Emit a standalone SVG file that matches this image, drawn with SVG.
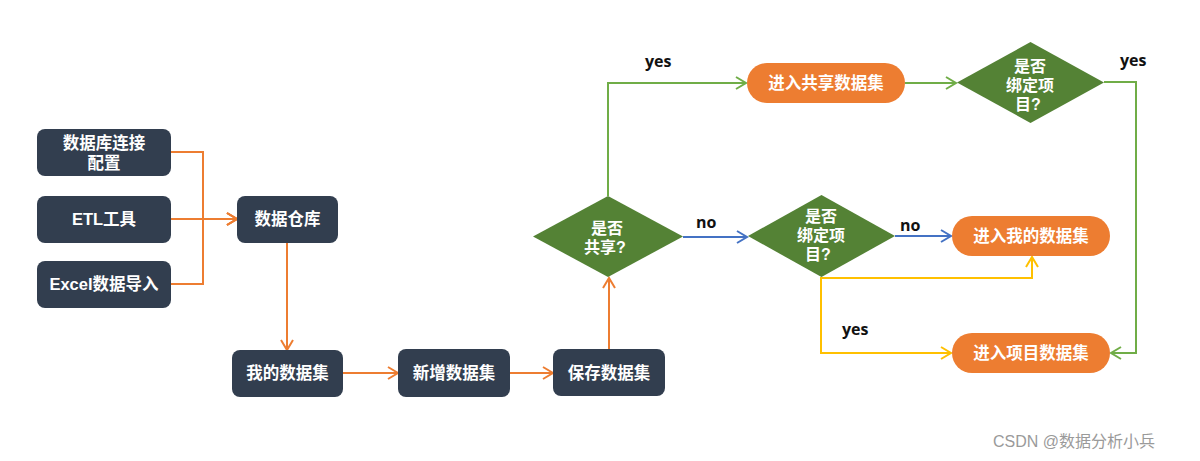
<svg xmlns="http://www.w3.org/2000/svg" width="1200" height="461" viewBox="0 0 1200 461">
<style>
.box{fill:#323e4f}
.pill{fill:#ed7d31}
.dia{fill:#548235}
.t{font-family:"Liberation Sans","Noto Sans CJK SC",sans-serif;font-weight:700;font-size:16.5px;fill:#ffffff;text-anchor:middle}
.dt{font-family:"Liberation Sans","Noto Sans CJK SC",sans-serif;font-weight:700;font-size:16px;fill:#ffffff;text-anchor:middle}
.lbl{font-family:"Open Sans","Liberation Sans",sans-serif;font-weight:700;font-size:16px;fill:#111111}
.c{fill:none;stroke-width:2}
.o{stroke:#ed7d31}
.g{stroke:#70ad47}
.b{stroke:#4472c4}
.y{stroke:#ffc000}
.wm{font-family:"Liberation Sans","Noto Sans CJK SC",sans-serif;font-size:16px;fill:#9a9a9a}
</style>
<defs>
<marker id="ao" markerUnits="userSpaceOnUse" markerWidth="12" markerHeight="14" refX="10" refY="6" orient="auto" overflow="visible"><path d="M0,0 L10,6 L0,12" fill="none" stroke="#ed7d31" stroke-width="2"/></marker>
<marker id="ag" markerUnits="userSpaceOnUse" markerWidth="12" markerHeight="14" refX="10" refY="6" orient="auto" overflow="visible"><path d="M0,0 L10,6 L0,12" fill="none" stroke="#70ad47" stroke-width="2"/></marker>
<marker id="ab" markerUnits="userSpaceOnUse" markerWidth="12" markerHeight="14" refX="10" refY="6" orient="auto" overflow="visible"><path d="M0,0 L10,6 L0,12" fill="none" stroke="#4472c4" stroke-width="2"/></marker>
<marker id="ay" markerUnits="userSpaceOnUse" markerWidth="12" markerHeight="14" refX="10" refY="6" orient="auto" overflow="visible"><path d="M0,0 L10,6 L0,12" fill="none" stroke="#ffc000" stroke-width="2"/></marker>
</defs>
<rect width="1200" height="461" fill="#ffffff"/>
<g id="connectors">
<path class="c o" d="M171,152 H203 V219 H237" marker-end="url(#ao)"/>
<path class="c o" d="M171,219 H237" marker-end="url(#ao)"/>
<path class="c o" d="M171,284 H203 V219 H237" marker-end="url(#ao)"/>
<path class="c o" d="M287,243 V350" marker-end="url(#ao)"/>
<path class="c o" d="M343,373 H398" marker-end="url(#ao)"/>
<path class="c o" d="M510,373 H553" marker-end="url(#ao)"/>
<path class="c o" d="M609,349 V278" marker-end="url(#ao)"/>
<path class="c g" d="M608,196 V83 H746" marker-end="url(#ag)"/>
<path class="c g" d="M905,83 H956" marker-end="url(#ag)"/>
<path class="c g" d="M1104,82 H1136 V353 H1111" marker-end="url(#ag)"/>
<path class="c b" d="M683,237 H747" marker-end="url(#ab)"/>
<path class="c b" d="M895,236 H951" marker-end="url(#ab)"/>
<path class="c y" d="M821,278 H1032 V257" marker-end="url(#ay)"/>
<path class="c y" d="M821,277 V353 H951" marker-end="url(#ay)"/>
<text class="lbl" x="645" y="67">yes</text>
<text class="lbl" x="696" y="228">no</text>
<text class="lbl" x="1120" y="66">yes</text>
<text class="lbl" x="900" y="231">no</text>
<text class="lbl" x="842" y="335">yes</text>
</g>
<g id="n-dbconn"><rect class="box" x="37" y="129" width="134" height="47" rx="8"/><text class="t" x="104" y="149">数据库连接</text><text class="t" x="104" y="169">配置</text></g>
<g id="n-etl"><rect class="box" x="37" y="196" width="134" height="47" rx="8"/><text class="t" x="104" y="225">ETL工具</text></g>
<g id="n-excel"><rect class="box" x="37" y="261" width="134" height="47" rx="8"/><text class="t" x="104" y="290">Excel数据导入</text></g>
<g id="n-dw"><rect class="box" x="237" y="196" width="101" height="47" rx="8"/><text class="t" x="287.5" y="225">数据仓库</text></g>
<g id="n-my"><rect class="box" x="232" y="350" width="111" height="47" rx="8"/><text class="t" x="287.5" y="379">我的数据集</text></g>
<g id="n-new"><rect class="box" x="398" y="349" width="112" height="48" rx="8"/><text class="t" x="454" y="379">新增数据集</text></g>
<g id="n-save"><rect class="box" x="553" y="349" width="112" height="47" rx="8"/><text class="t" x="609" y="379">保存数据集</text></g>
<g id="d-share"><polygon class="dia" points="608,196 683,236.5 608,277 533,236.5"/><text class="dt" x="607" y="234">是否</text><text class="dt" x="605" y="253">共享?</text></g>
<g id="d-bind1"><polygon class="dia" points="821.5,195 895,236 821.5,277 748,236"/><text class="dt" x="821" y="222">是否</text><text class="dt" x="821" y="241">绑定项</text><text class="dt" x="818" y="260">目?</text></g>
<g id="d-bind2"><polygon class="dia" points="1030.5,42 1104,82.5 1030.5,123 957,82.5"/><text class="dt" x="1030" y="72">是否</text><text class="dt" x="1030" y="91">绑定项</text><text class="dt" x="1028" y="110">目?</text></g>
<g id="p-shared"><rect class="pill" x="747" y="63" width="158" height="40" rx="20"/><text class="t" x="826" y="89">进入共享数据集</text></g>
<g id="p-my"><rect class="pill" x="952" y="216" width="158" height="40" rx="20"/><text class="t" x="1031" y="242">进入我的数据集</text></g>
<g id="p-proj"><rect class="pill" x="952" y="333" width="158" height="40" rx="20"/><text class="t" x="1031" y="359">进入项目数据集</text></g>
<text class="wm" x="993" y="447">CSDN @数据分析小兵</text>
</svg>
